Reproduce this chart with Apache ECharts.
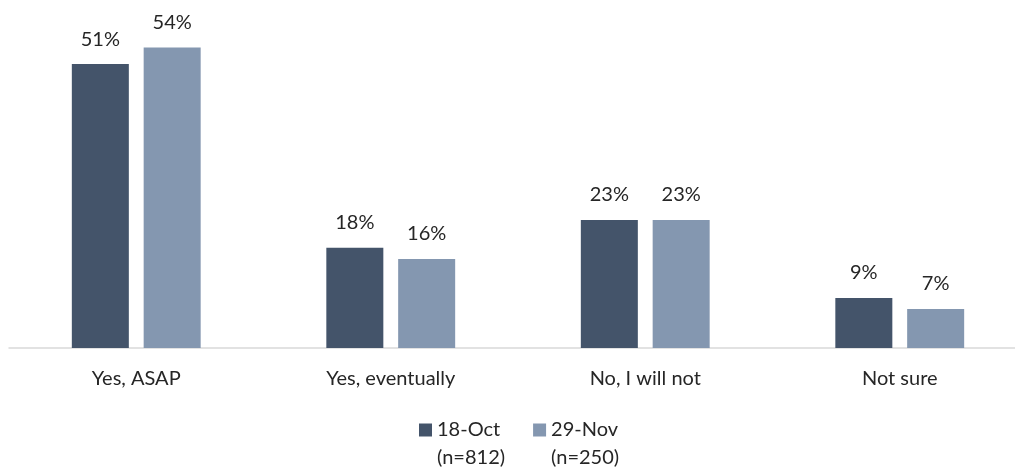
<!DOCTYPE html>
<html>
<head>
<meta charset="utf-8">
<script src="https://cdn.jsdelivr.net/npm/echarts@6/dist/echarts.min.js"></script>
<style>
  html, body { margin: 0; padding: 0; background: #fff; }
  #chart { width: 1015px; height: 473px; }
</style>
</head>
<body>
<div id="chart"></div>
<script>
const categories = ["Yes, ASAP", "Yes, eventually", "No, I will not", "Not sure"];
const octValues = [51, 18, 23, 9];
const novValues = [54, 16, 23, 7];
const seriesNames = ["18-Oct\n(n=812)", "29-Nov\n(n=250)"];

const FONT = "Lato, 'Liberation Sans', sans-serif";
const chart = echarts.init(document.getElementById("chart"));

const labelStyle = {
  show: true,
  position: "top",
  distance: 15,
  formatter: "{c}%",
  fontFamily: FONT,
  fontSize: 20,
  color: "#262626",
};

chart.setOption({
  animation: false,
  textStyle: { fontFamily: FONT },
  grid: {
    left: 9,
    top: 14,
    width: 1018,
    bottom: 125,
    containLabel: false,
    outerBoundsMode: "none",
  },
  legend: {
    left: 414,
    top: 383,
    itemWidth: 13,
    itemHeight: 13,
    itemGap: 28,
    icon: "rect",
    // blank first line keeps the icon level with the date line
    formatter: (name) => " \n" + name,
    textStyle: {
      fontFamily: FONT,
      fontSize: 20,
      lineHeight: 28,
      color: "#262626",
    },
    data: seriesNames,
  },
  xAxis: {
    type: "category",
    data: categories,
    axisLine: { lineStyle: { color: "#d9d9d9", width: 1.5 } },
    axisTick: { show: false },
    axisLabel: { fontFamily: FONT, fontSize: 20, color: "#262626", margin: 21 },
  },
  yAxis: {
    type: "value",
    min: 0,
    max: 60,
    show: false,
    splitLine: { show: false },
  },
  series: [
    {
      name: seriesNames[0],
      type: "bar",
      data: octValues,
      barWidth: "22.4%",
      barGap: "26%",
      itemStyle: { color: "#44546A" },
      label: labelStyle,
    },
    {
      name: seriesNames[1],
      type: "bar",
      data: novValues,
      barWidth: "22.4%",
      itemStyle: { color: "#8497B0" },
      label: labelStyle,
    },
  ],
});
</script>
</body>
</html>
